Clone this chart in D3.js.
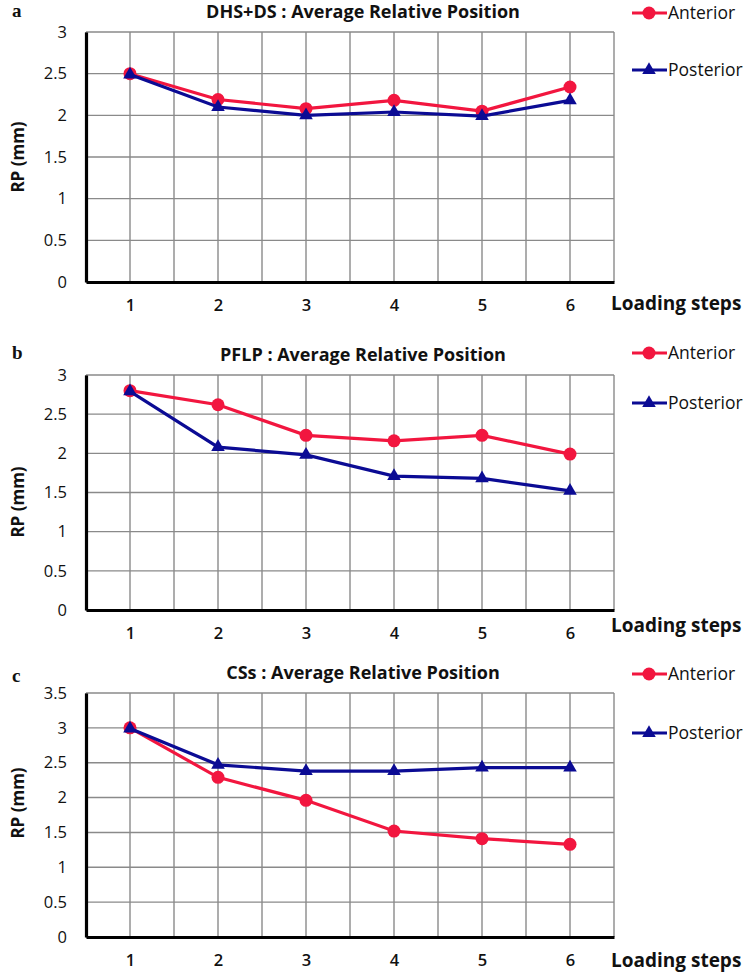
<!DOCTYPE html>
<html>
<head>
<meta charset="utf-8">
<script src="https://cdn.jsdelivr.net/npm/d3@7"></script>
<style>
  html, body { margin: 0; padding: 0; background: #fff; }
  svg { display: block; }
</style>
</head>
<body>
<svg id="chart" width="750" height="976"></svg>
<script>
// ---------------- data ----------------
const steps = [1, 2, 3, 4, 5, 6];
const seriesNames = ["Anterior", "Posterior"];
const panelLetters = ["a", "b", "c"];
const panelTitles = [
  "DHS+DS : Average Relative Position",
  "PFLP : Average Relative Position",
  "CSs : Average Relative Position"
];
const yTicksA = [0, 0.5, 1, 1.5, 2, 2.5, 3];
const yTicksB = [0, 0.5, 1, 1.5, 2, 2.5, 3];
const yTicksC = [0, 0.5, 1, 1.5, 2, 2.5, 3, 3.5];
const xTitle = "Loading steps";
const yTitle = "RP (mm)";

const dhsAnterior  = [2.50, 2.19, 2.08, 2.18, 2.05, 2.34];
const dhsPosterior = [2.49, 2.10, 2.00, 2.04, 1.99, 2.18];
const pflpAnterior  = [2.80, 2.62, 2.23, 2.16, 2.23, 1.99];
const pflpPosterior = [2.79, 2.08, 1.98, 1.71, 1.68, 1.52];
const cssAnterior  = [3.00, 2.29, 1.96, 1.52, 1.41, 1.33];
const cssPosterior = [2.99, 2.47, 2.38, 2.38, 2.43, 2.43];

// ---------------- layout ----------------
const RED = "#f2163f";
const BLUE = "#0b0b94";
const FONT = "'Open Sans', 'DejaVu Sans', sans-serif";
const left = 86, right = 614;

const panels = [
  { letter: panelLetters[0], title: panelTitles[0], yTicks: yTicksA, ant: dhsAnterior, post: dhsPosterior,
    top: 32, bottom: 282, legA: 13, legP: 70, xtY: 305, ltY: 303, rpY: 157, letterY: 17 },
  { letter: panelLetters[1], title: panelTitles[1], yTicks: yTicksB, ant: pflpAnterior, post: pflpPosterior,
    top: 375, bottom: 610, legA: 353, legP: 403, xtY: 633, ltY: 625, rpY: 502, letterY: 359 },
  { letter: panelLetters[2], title: panelTitles[2], yTicks: yTicksC, ant: cssAnterior, post: cssPosterior,
    top: 693, bottom: 937, legA: 674, legP: 733, xtY: 960, ltY: 960, rpY: 803, letterY: 682 }
];

const svg = d3.select("#chart");

panels.forEach(p => {
  const g = svg.append("g");
  const yMax = d3.max(p.yTicks);
  const x = d3.scaleLinear().domain([0.5, 6.5]).range([left, right]);
  const y = d3.scaleLinear().domain([0, yMax]).range([p.bottom, p.top]);

  // vertical grid every half step
  const vGrid = d3.range(0.5, 6.51, 0.5);
  g.append("g").selectAll("line").data(vGrid).join("line")
    .attr("x1", d => x(d)).attr("x2", d => x(d))
    .attr("y1", p.top).attr("y2", p.bottom)
    .attr("stroke", "#8a8a8a").attr("stroke-width", 1.4);
  // horizontal grid
  g.append("g").selectAll("line").data(p.yTicks).join("line")
    .attr("x1", left).attr("x2", right)
    .attr("y1", d => y(d)).attr("y2", d => y(d))
    .attr("stroke", "#8a8a8a").attr("stroke-width", 1.4);

  // axes (thick black left & bottom)
  const yAxis = d3.axisLeft(y).tickValues(p.yTicks).tickSize(0).tickPadding(19)
    .tickFormat(d => String(d));
  const yg = g.append("g").attr("transform", `translate(${left},0)`).call(yAxis);
  yg.select(".domain").attr("stroke", "#000").attr("stroke-width", 3.2);
  yg.selectAll("text").attr("font-family", FONT).attr("font-size", 16.5).attr("fill", "#111");

  const xAxis = d3.axisBottom(x).tickValues(steps).tickSize(0).tickFormat(d => String(d));
  const xg = g.append("g").attr("transform", `translate(0,${p.bottom})`).call(xAxis);
  xg.select(".domain").attr("stroke", "#000").attr("stroke-width", 3.2);
  xg.selectAll("text").attr("font-family", FONT).attr("font-size", 16.5).attr("font-weight", 600)
    .attr("fill", "#111").attr("y", p.xtY - p.bottom).attr("dy", "0.35em");

  // lines & markers
  const line = d3.line().x((d, i) => x(steps[i])).y(d => y(d));
  g.append("path").datum(p.ant).attr("d", line)
    .attr("fill", "none").attr("stroke", RED).attr("stroke-width", 3.2);
  g.append("g").selectAll("circle").data(p.ant).join("circle")
    .attr("cx", (d, i) => x(steps[i])).attr("cy", d => y(d)).attr("r", 6.5).attr("fill", RED);

  g.append("path").datum(p.post).attr("d", line)
    .attr("fill", "none").attr("stroke", BLUE).attr("stroke-width", 3.2);
  const tri = d3.symbol().type(d3.symbolTriangle).size(80);
  g.append("g").selectAll("path").data(p.post).join("path")
    .attr("d", tri)
    .attr("transform", (d, i) => `translate(${x(steps[i])},${y(d)})`)
    .attr("fill", BLUE);

  // title
  g.append("text").attr("x", 363).attr("y", p.top - 14).attr("text-anchor", "middle")
    .attr("font-family", FONT).attr("font-size", 18).attr("font-weight", 700).attr("fill", "#111")
    .text(p.title);

  // panel letter
  g.append("text").attr("x", 12).attr("y", p.letterY)
    .attr("font-family", "'Liberation Serif', 'DejaVu Serif', serif").attr("font-size", 19)
    .attr("font-weight", 700).attr("fill", "#111").text(p.letter);

  // axis titles
  g.append("text").attr("x", 611).attr("y", p.ltY).attr("dy", "0.35em")
    .attr("font-family", FONT).attr("font-size", 19).attr("font-weight", 700).attr("fill", "#111")
    .text(xTitle);
  g.append("text")
    .attr("transform", `translate(${18},${p.rpY}) rotate(-90)`)
    .attr("text-anchor", "middle").attr("dy", "0.35em")
    .attr("font-family", FONT).attr("font-size", 17).attr("font-weight", 700).attr("fill", "#111")
    .text(yTitle);

  // legend
  const legs = [
    { name: seriesNames[0], color: RED, yy: p.legA, kind: "circle" },
    { name: seriesNames[1], color: BLUE, yy: p.legP, kind: "tri" }
  ];
  legs.forEach(l => {
    const lg = g.append("g");
    lg.append("line").attr("x1", 632).attr("x2", 667).attr("y1", l.yy).attr("y2", l.yy)
      .attr("stroke", l.color).attr("stroke-width", 3.2);
    if (l.kind === "circle") {
      lg.append("circle").attr("cx", 649).attr("cy", l.yy).attr("r", 6.5).attr("fill", l.color);
    } else {
      lg.append("path").attr("d", tri).attr("transform", `translate(649,${l.yy})`).attr("fill", l.color);
    }
    lg.append("text").attr("x", 668).attr("y", l.yy).attr("dy", "0.35em")
      .attr("font-family", FONT).attr("font-size", 17.5).attr("fill", "#111").text(l.name);
  });
});
</script>
</body>
</html>
